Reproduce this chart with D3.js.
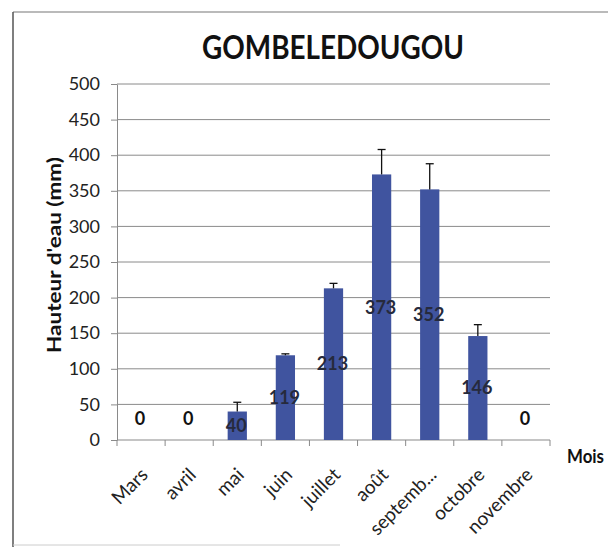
<!DOCTYPE html>
<html>
<head>
<meta charset="utf-8">
<script src="https://cdn.jsdelivr.net/npm/d3@7"></script>
<style>
  body { margin: 0; background: #fff; }
  svg { display: block; font-family: Lato, "Open Sans", sans-serif; }
</style>
</head>
<body>
<div id="chart"></div>
<script>
// monthly rainfall, Gombeledougou
const months = ["Mars", "avril", "mai", "juin", "juillet", "août", "septemb...", "octobre", "novembre"];
const rainfall = [0, 0, 40, 119, 213, 373, 352, 146, 0];
const errPlus = [0, 0, 13, 2, 7, 35, 36, 16, 0];
const yTicks = [0, 50, 100, 150, 200, 250, 300, 350, 400, 450, 500];

const width = 608, height = 547;
const plot = { left: 117, right: 550, top: 84, bottom: 440 };
const barColor = "#40549f";
const gridColor = "#8a8a8a";

const svg = d3.select("#chart").append("svg")
  .attr("width", width)
  .attr("height", height);

// chart frame (scan shows only left + top edges)
svg.append("line").attr("x1", 13).attr("x2", width).attr("y1", 12).attr("y2", 12)
  .attr("stroke", "#777").attr("stroke-width", 1.2);
svg.append("line").attr("x1", 13).attr("x2", 13).attr("y1", 12).attr("y2", height)
  .attr("stroke", "#555").attr("stroke-width", 1.5);
svg.append("line").attr("x1", 13).attr("x2", 340).attr("y1", 545).attr("y2", 545)
  .attr("stroke", "#ccc").attr("stroke-width", 1);

const x = d3.scaleBand()
  .domain(months)
  .range([plot.left, plot.right])
  .paddingInner(0.6)
  .paddingOuter(0.3);

const y = d3.scaleLinear()
  .domain([0, 500])
  .range([plot.bottom, plot.top]);

// gridlines
svg.append("g").selectAll("line").data(yTicks.filter(d => d > 0)).join("line")
  .attr("x1", plot.left).attr("x2", plot.right)
  .attr("y1", d => y(d)).attr("y2", d => y(d))
  .attr("stroke", gridColor).attr("stroke-width", 1);

// y axis
const gy = svg.append("g")
  .attr("transform", `translate(${plot.left},0)`)
  .call(d3.axisLeft(y).tickValues(yTicks).tickSize(6).tickPadding(11).tickSizeOuter(0));
gy.select(".domain").attr("stroke", gridColor);
gy.selectAll(".tick line").attr("stroke", gridColor);
gy.selectAll(".tick text")
  .attr("fill", "#222")
  .style("font-size", "18px")
  .style("font-family", "Lato, sans-serif");

// x axis line + ticks at category boundaries
const step = x.step();
const bounds = months.map(m => x(m) + x.bandwidth() / 2 - step / 2).concat([plot.right]);
svg.append("line")
  .attr("x1", plot.left).attr("x2", plot.right)
  .attr("y1", y(0)).attr("y2", y(0))
  .attr("stroke", gridColor).attr("stroke-width", 1.2);
svg.append("g").selectAll("line").data(bounds).join("line")
  .attr("x1", d => d).attr("x2", d => d)
  .attr("y1", y(0)).attr("y2", y(0) + 6)
  .attr("stroke", gridColor);

// x labels, rotated
svg.append("g").selectAll("text").data(months).join("text")
  .attr("transform", d => `translate(${x(d) + x.bandwidth() / 2 + 8},${y(0) + 36}) rotate(-45)`)
  .attr("text-anchor", "end")
  .attr("fill", "#222")
  .style("font-size", "19px")
  .text(d => d);

const data = months.map((m, i) => ({ month: m, value: rainfall[i], err: errPlus[i] }));

// bars
svg.append("g").selectAll("rect").data(data).join("rect")
  .attr("x", d => x(d.month))
  .attr("y", d => y(d.value))
  .attr("width", x.bandwidth())
  .attr("height", d => y(0) - y(d.value))
  .attr("fill", barColor);

// error bars (plus only)
const errs = svg.append("g").selectAll("g").data(data.filter(d => d.value > 0)).join("g")
  .attr("stroke", "#111").attr("stroke-width", 1.3);
errs.append("line")
  .attr("x1", d => x(d.month) + x.bandwidth() / 2)
  .attr("x2", d => x(d.month) + x.bandwidth() / 2)
  .attr("y1", d => y(d.value))
  .attr("y2", d => y(d.value + d.err));
errs.append("line")
  .attr("x1", d => x(d.month) + x.bandwidth() / 2 - 4)
  .attr("x2", d => x(d.month) + x.bandwidth() / 2 + 4)
  .attr("y1", d => y(d.value + d.err))
  .attr("y2", d => y(d.value + d.err));

// data labels
svg.append("g").selectAll("text").data(data).join("text")
  .attr("x", d => x(d.month) + x.bandwidth() / 2 - 1)
  .attr("y", d => d.value === 0 ? y(0) - 21 : y(d.value / 2))
  .attr("dy", "0.35em")
  .attr("text-anchor", "middle")
  .attr("fill", d => d.value === 0 ? "#111" : "#262a3c")
  .style("font-size", "18px")
  .style("font-weight", "bold")
  .text(d => d.value);

// title
svg.append("text")
  .attr("x", 333).attr("y", 59)
  .attr("text-anchor", "middle")
  .attr("fill", "#111")
  .attr("textLength", 262)
  .attr("lengthAdjust", "spacingAndGlyphs")
  .style("font-size", "32px")
  .style("font-weight", "bold")
  .text("GOMBELEDOUGOU");

// axis titles
svg.append("text")
  .attr("transform", `translate(61,255) rotate(-90)`)
  .attr("text-anchor", "middle")
  .attr("fill", "#111")
  .attr("textLength", 196)
  .attr("lengthAdjust", "spacingAndGlyphs")
  .style("font-size", "19px")
  .style("font-weight", "bold")
  .text("Hauteur d'eau (mm)");

svg.append("text")
  .attr("x", 567).attr("y", 463)
  .attr("fill", "#111")
  .attr("textLength", 37)
  .attr("lengthAdjust", "spacingAndGlyphs")
  .style("font-size", "18px")
  .style("font-weight", "bold")
  .text("Mois");
</script>
</body>
</html>
